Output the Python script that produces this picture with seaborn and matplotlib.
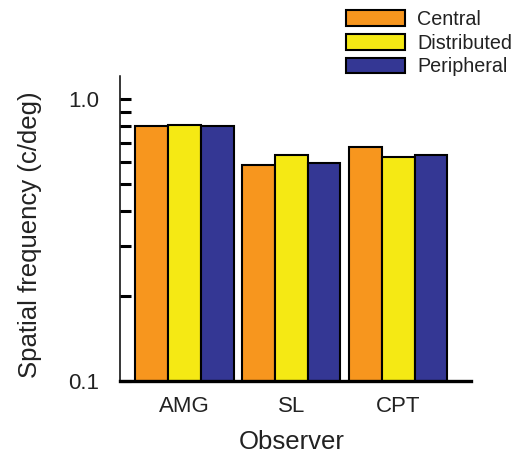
import numpy as np
import pandas as pd
import matplotlib
matplotlib.use("Agg")
import matplotlib.pyplot as plt
import seaborn as sns
from matplotlib.ticker import FixedLocator, NullFormatter

observers = ["AMG", "SL", "CPT"]
conditions = ["Central", "Distributed", "Peripheral"]
central = [0.80, 0.583, 0.677]
distributed = [0.81, 0.634, 0.622]
peripheral = [0.80, 0.595, 0.636]

COLORS = {"Central": "#F7961E", "Distributed": "#F5E914", "Peripheral": "#343794"}

df = pd.DataFrame({
    "Observer": observers * 3,
    "cond": np.repeat(conditions, 3),
    "freq": central + distributed + peripheral,
})

sns.set_style("ticks")
plt.rcParams["font.family"] = ["Liberation Sans", "DejaVu Sans"]

fig = plt.figure(figsize=(5.18, 4.54), dpi=100)
ax = fig.add_axes([0.232, 0.161, 0.677, 0.672])

sns.barplot(data=df, x="Observer", y="freq", hue="cond", hue_order=conditions,
            palette=COLORS, edgecolor="black", linewidth=1.5, width=0.92,
            gap=0, saturation=1, ax=ax, legend=False)

ax.set_yscale("log")
ax.set_ylim(0.1, 1.21)
ax.set_xlim(-0.6, 2.68)

ax.yaxis.set_major_locator(FixedLocator([0.1, 1.0]))
ax.yaxis.set_minor_locator(FixedLocator([0.2, 0.3, 0.4, 0.5, 0.6, 0.7, 0.8, 0.9]))
ax.yaxis.set_minor_formatter(NullFormatter())
ax.set_yticklabels(["0.1", "1.0"])
ax.tick_params(axis="y", which="both", direction="in", length=8, width=2.2,
               labelsize=16, pad=15, colors="black", labelcolor="#222222")
ax.tick_params(axis="x", length=0, labelsize=16, pad=11, labelcolor="#222222")

for s in ["top", "right"]:
    ax.spines[s].set_visible(False)
ax.spines["left"].set_linewidth(1.1)
ax.spines["bottom"].set_linewidth(2.4)
ax.spines["left"].set_color("black")
ax.spines["bottom"].set_color("black")

ax.set_ylabel("Spatial frequency (c/deg)", fontsize=18.5, color="#222222")
ax.set_xlabel("Observer", fontsize=18.5, color="#222222")
ax.yaxis.set_label_coords(-0.222, 0.48)
ax.xaxis.set_label_coords(0.49, -0.16)

handles = [plt.Rectangle((0, 0), 1, 1, facecolor=COLORS[c], edgecolor="black", linewidth=1.5)
           for c in conditions]
fig.legend(handles, conditions, loc="upper left", bbox_to_anchor=(346 / 518, 1 - 10 / 454),
           frameon=False, fontsize=14.2, handlelength=3.0, handleheight=0.82,
           handletextpad=0.62, labelspacing=0.24, borderpad=0, borderaxespad=0,
           labelcolor="#222222")

fig.savefig("out.png", dpi=100)
